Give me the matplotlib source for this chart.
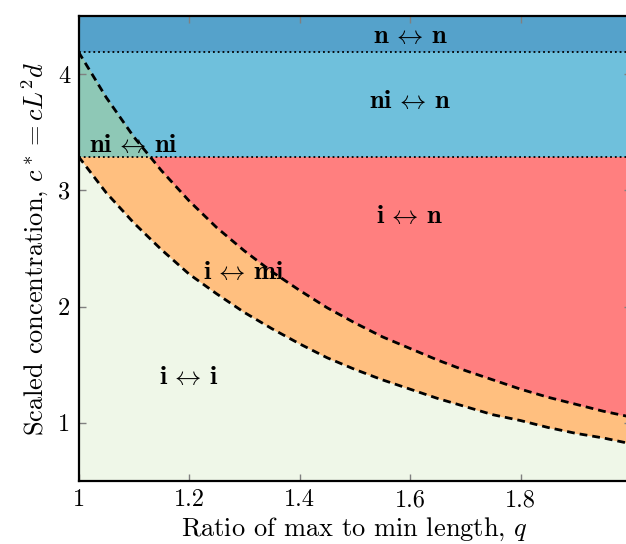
import numpy as np
import matplotlib
matplotlib.use('Agg')
import matplotlib.pyplot as plt
from matplotlib.ticker import FormatStrFormatter

# boundary values
q = [1.00, 1.05, 1.10, 1.15, 1.20, 1.25, 1.30, 1.35, 1.40, 1.45, 1.50,
     1.55, 1.60, 1.65, 1.70, 1.75, 1.80, 1.85, 1.90, 1.95, 2.00]
c_lower = [3.29, 2.98, 2.72, 2.49, 2.28, 2.11, 1.95, 1.81, 1.68, 1.56, 1.46,
           1.37, 1.29, 1.21, 1.14, 1.07, 1.02, 0.96, 0.91, 0.87, 0.82]
c_upper = [4.19, 3.80, 3.46, 3.17, 2.91, 2.68, 2.48, 2.30, 2.14, 1.99, 1.86,
           1.74, 1.64, 1.54, 1.45, 1.37, 1.29, 1.22, 1.16, 1.10, 1.05]
c_low_line = 3.29
c_high_line = 4.19

labels = [r'$\mathbf{n}\,\leftrightarrow\,\mathbf{n}$', r'$\mathbf{ni}\,\leftrightarrow\,\mathbf{n}$',
          r'$\mathbf{i}\,\leftrightarrow\,\mathbf{n}$', r'$\mathbf{ni}\,\leftrightarrow\,\mathbf{ni}$',
          r'$\mathbf{i}\,\leftrightarrow\,\mathbf{mi}$', r'$\mathbf{i}\,\leftrightarrow\,\mathbf{i}$']
label_x = [1.60, 1.60, 1.60, 1.10, 1.30, 1.20]
label_y = [4.33, 3.77, 2.78, 3.39, 2.30, 1.39]

plt.rcParams['font.family'] = 'serif'
plt.rcParams['font.serif'] = ['cmr10']
plt.rcParams['mathtext.fontset'] = 'cm'
plt.rcParams['axes.formatter.use_mathtext'] = True

qa = np.array(q)
lo = np.array(c_lower)
up = np.array(c_upper)

fig = plt.figure(figsize=(6.26, 5.44), dpi=100)
ax = fig.add_axes([0.1254, 0.1158, 0.8826, 0.855])

ax.axhspan(c_high_line, 4.5, color='#55a2cb', lw=0)
ax.axhspan(c_low_line, c_high_line, color='#6fc0dc', lw=0)
ax.axhspan(0.5, c_low_line, color='#ff7f7f', lw=0)
ax.fill_between(qa, 0.5, up, color='#ffbf7f', lw=0)
ax.fill_between(qa, c_low_line, up, where=up >= c_low_line, interpolate=True, color='#8ec8b6', lw=0)
ax.fill_between(qa, 0.5, lo, color='#eff7e8', lw=0)

ax.plot(qa, lo, 'k--', lw=2, dashes=(2.8, 1.8))
ax.plot(qa, up, 'k--', lw=2, dashes=(2.8, 1.8))
ax.axhline(c_low_line, color='k', ls=':', lw=1.3)
ax.axhline(c_high_line, color='k', ls=':', lw=1.3)

for s, x, y in zip(labels, label_x, label_y):
    ax.text(x, y, s, fontsize=19, ha='center', va='center')

ax.set_xlim(1, 2)
ax.set_ylim(0.5, 4.5)
ax.set_xticks([1, 1.2, 1.4, 1.6, 1.8, 2])
ax.set_yticks([1, 2, 3, 4])
ax.xaxis.set_major_formatter(FormatStrFormatter('%g'))
ax.yaxis.set_major_formatter(FormatStrFormatter('%g'))
ax.tick_params(direction='in', color='grey', length=5, width=1, labelsize=17.5,
               top=True, right=True, pad=6)
for sp in ax.spines.values():
    sp.set_linewidth(1.6)

ax.set_xlabel('Ratio of max to min length, $q$', fontsize=19, labelpad=3)
ax.set_ylabel('Scaled concentration, $c^* = cL^2d$', fontsize=19, labelpad=5)

fig.savefig('out.png', dpi=100)
